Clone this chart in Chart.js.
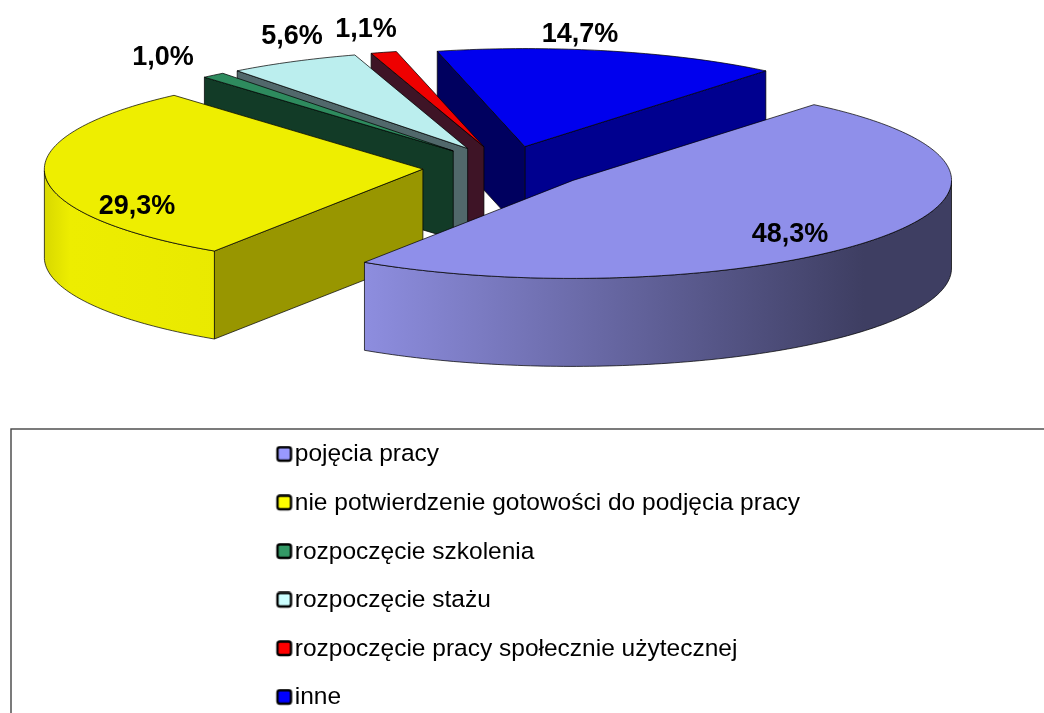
<!DOCTYPE html>
<html lang="pl">
<head>
<meta charset="utf-8">
<style>html,body{margin:0;padding:0;background:#fff;overflow:hidden}#w{width:1044px;height:713px;position:relative}</style>
<script src="https://cdn.jsdelivr.net/npm/chart.js@4"></script>
</head>
<body>
<div id="w"><canvas id="c"></canvas></div>
<script>
const categories = ['pojęcia pracy','nie potwierdzenie gotowości do podjęcia pracy','rozpoczęcie szkolenia','rozpoczęcie stażu','rozpoczęcie pracy społecznie użytecznej','inne'];
const values = [48.3,29.3,1.0,5.6,1.1,14.7];
const topColors = ['#8f8fea','#eeee00','#2e8b5e','#bbeeee','#ee0000','#0000ee'];
const legendColors = ['#9999ff','#ffff00','#339966','#ccffff','#ff0000','#0000ff'];
const startWallColors = ['#55558a','#989600','#123b27','#51686b','#3e1426','#00005f'];
const endWallColors = ['#55558a','#989600','#123b27','#51686b','#3e1426','#00008f'];
const rimBase = [[148,148,234],[240,240,0],[46,139,94],[187,238,238],[238,0,0],[0,0,238]];
const labelAnchors = [[790,234.5],[137,206.5],[163,57.5],[292,36.5],[366,29.5],[580,34.5]];

const view = {cx:506, cy:167.6, ax:378.5, ay:-2, bx:7, by:98, explode:0.22, depth:88};
const paintOrder = [5,4,3,2,1,0];

function rimStyle(ctx,i){
  const g = ctx.createLinearGradient(44,0,951,0);
  const b = rimBase[i];
  const stops = [[44,.9],[70,.99],[361,.96],[864,.42],[951,.42]];
  stops.forEach(s=>{
    const f=s[1];
    g.addColorStop((s[0]-44)/907,`rgb(${b[0]*f|0},${b[1]*f|0},${b[2]*f|0})`);
  });
  return g;
}
const threeD = {
  id:'threeD',
  afterLayout(chart){
    const l = chart.legend;
    const pad = chart.options.plugins.legend.labels.padding;
    l.left = 276.5 - pad; l.right = chart.width;
    l.top = 442.4 - pad; l.bottom = chart.height + 200;
  },
  beforeDraw(chart){
    const ctx = chart.ctx;
    ctx.save();
    ctx.fillStyle='#fff';ctx.fillRect(0,0,chart.width,chart.height);
    ctx.strokeStyle='#444';ctx.lineWidth=1.4;
    ctx.strokeRect(11,429,1200,500);
    ctx.restore();
  },
  beforeDatasetDraw(chart,args){
    const ctx = chart.ctx, arcs = args.meta.data, v = view;
    const proj = (o,a)=>[o[0]+Math.cos(a)*v.ax+Math.sin(a)*v.bx, o[1]+Math.cos(a)*v.ay+Math.sin(a)*v.by];
    const poly = pts=>{ctx.beginPath();pts.forEach((p,i)=>i?ctx.lineTo(p[0],p[1]):ctx.moveTo(p[0],p[1]));ctx.closePath();};
    const down = p=>[p[0],p[1]+v.depth];
    const line = 'rgba(0,0,0,.8)';
    paintOrder.forEach(i=>{
      const arc = arcs[i], R = arc.outerRadius;
      const s = arc.startAngle, e = arc.endAngle, mid=(s+e)/2;
      const m = proj([0,0],mid);
      const apex = [v.cx+m[0]*v.explode, v.cy+m[1]*v.explode];
      const ps = proj(apex,s), pe = proj(apex,e);
      ctx.save();
      ctx.lineWidth=.9; ctx.strokeStyle=line; ctx.lineJoin='round';
      if(pe[0]-apex[0]>0){poly([apex,pe,down(pe),down(apex)]);ctx.fillStyle=endWallColors[i];ctx.fill();ctx.stroke();}
      if(ps[0]-apex[0]<0){poly([ps,apex,down(apex),down(ps)]);ctx.fillStyle=startWallColors[i];ctx.fill();ctx.stroke();}
      // outer rim: only the part whose top edge runs along the lower silhouette
      const n = Math.max(2,Math.ceil((e-s)*180/Math.PI)), rim=[];
      for(let k=0;k<=n;k++){
        const a=s+(e-s)*k/n;
        if(-Math.sin(a)*v.ax+Math.cos(a)*v.bx<0) rim.push(proj(apex,a));
      }
      if(rim.length>1){
        poly(rim.concat(rim.map(down).reverse()));
        ctx.fillStyle=rimStyle(ctx,i);ctx.fill();ctx.stroke();
      }
      // the top face is the library's own arc element, seen through the view matrix
      ctx.save();
      const a=v.ax/R,b=v.ay/R,c=v.bx/R,d=v.by/R;
      ctx.transform(a,b,c,d,apex[0]-(a*arc.x+c*arc.y),apex[1]-(b*arc.x+d*arc.y));
      arc.draw(ctx);
      ctx.restore();
      const edge=[apex];
      for(let k=0;k<=n;k++) edge.push(proj(apex,s+(e-s)*k/n));
      poly(edge);ctx.stroke();
      ctx.restore();
    });
    return false;
  },
  afterDatasetsDraw(chart){
    const ctx = chart.ctx;
    ctx.save();
    ctx.fillStyle='#000';
    ctx.font='bold 27px "Liberation Sans", Arial, sans-serif';
    ctx.textAlign='center';ctx.textBaseline='middle';
    values.forEach((val,i)=>{
      ctx.fillText(val.toFixed(1).replace('.',',')+'%',labelAnchors[i][0],labelAnchors[i][1]);
    });
    ctx.restore();
  }
};
function swatch(color){
  const c=document.createElement('canvas');c.width=28;c.height=18;
  const x=c.getContext('2d');
  x.fillStyle=color;x.strokeStyle='#000';x.lineWidth=2.4;
  x.beginPath();x.roundRect(12,1.5,13.5,13.5,2.5);x.fill();x.stroke();
  return c;
}
new Chart(document.getElementById('c'),{
  type:'pie',
  data:{labels:categories,datasets:[{data:values,backgroundColor:topColors,borderWidth:0,offset:0}]},
  options:{
    responsive:true,maintainAspectRatio:false,animation:false,rotation:40.6,
    layout:{padding:0},
    plugins:{
      tooltip:{enabled:false},
      legend:{
        display:true,position:'left',align:'start',
        labels:{
          font:{family:'"Liberation Sans", Arial, sans-serif',size:24.5},
          color:'#000',boxWidth:6,padding:24.1,usePointStyle:true,
          generateLabels:()=>categories.map((t,i)=>({text:t,index:i,pointStyle:swatch(legendColors[i]),fillStyle:legendColors[i],strokeStyle:'#000',lineWidth:0,hidden:false}))
        }
      }
    }
  },
  plugins:[threeD]
});
</script>
</body>
</html>
